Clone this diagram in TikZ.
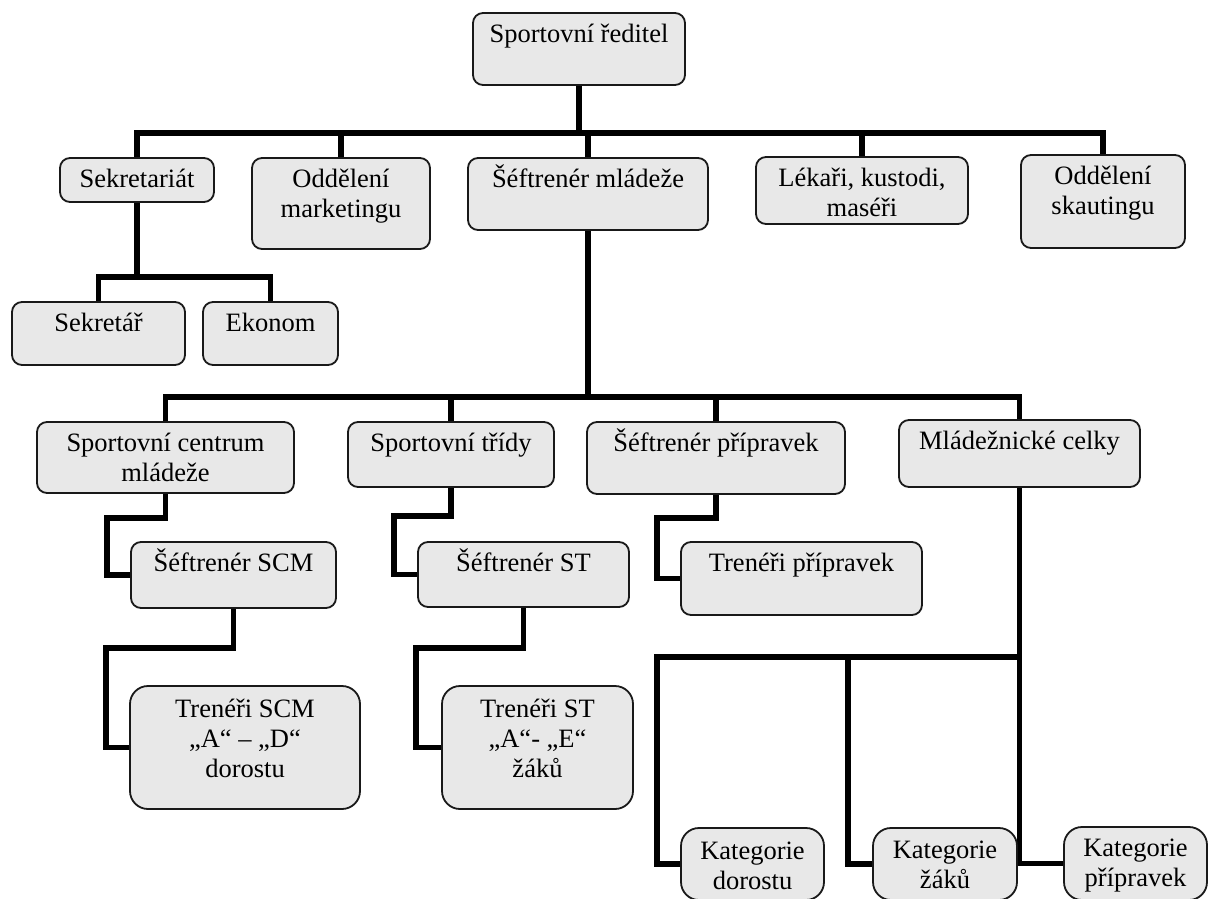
\documentclass[tikz,border=0pt]{standalone}
\usepackage{fontspec}
\setmainfont{Liberation Serif}
\usetikzlibrary{backgrounds}
\definecolor{boxfill}{gray}{0.91}
\definecolor{edge}{gray}{0.1}
\newcommand\bx[4][29pt]{\parbox[c][#3][t]{#2}{\centering\rule{0pt}{#1}#4}}
\tikzset{
  orgbox/.style={draw=edge, fill=boxfill, line width=1.8pt, rounded corners=10pt,
    inner sep=0pt, font=\fontsize{26.5}{30}\selectfont},
  bigbox/.style={orgbox, rounded corners=18pt},
  conn/.style={draw=black, line width=5.5pt, line join=miter}
}
\begin{document}
\begin{tikzpicture}[x=1pt,y=-1pt]
\useasboundingbox (0,0) rectangle (1208,899);
\clip (0,0) rectangle (1208,899);
% level 1
\node[orgbox] (top) at (579,49) {\bx[30pt]{212pt}{72pt}{Sportovní ředitel}};
% level 2
\node[orgbox] (sek) at (137,180) {\bx{154pt}{44pt}{Sekretariát}};
\node[orgbox] (mkt) at (341,203.5) {\bx{178pt}{91pt}{Oddělení\\marketingu}};
\node[orgbox] (sm) at (588,194) {\bx{240pt}{72pt}{Šéftrenér mládeže}};
\node[orgbox] (lek) at (862,190.5) {\bx{212pt}{67pt}{Lékaři, kustodi,\\maséři}};
\node[orgbox] (sku) at (1103,201.5) {\bx{164pt}{93pt}{Oddělení\\skautingu}};
% secretariat
\node[orgbox] (sekr) at (98.5,333.5) {\bx{173pt}{63pt}{Sekretář}};
\node[orgbox] (eko) at (270.5,333.5) {\bx{135pt}{63pt}{Ekonom}};
% level 3
\node[orgbox] (scm) at (165.5,457.5) {\bx{257pt}{71pt}{Sportovní centrum\\mládeže}};
\node[orgbox] (st) at (451,454.5) {\bx{206pt}{65pt}{Sportovní třídy}};
\node[orgbox] (sp) at (716,458) {\bx{258pt}{72pt}{Šéftrenér přípravek}};
\node[orgbox] (mc) at (1019.5,453.5) {\bx{241pt}{67pt}{Mládežnické celky}};
% level 4
\node[orgbox] (sscm) at (233.5,575) {\bx{205pt}{66pt}{Šéftrenér SCM}};
\node[orgbox] (sst) at (523.5,574.5) {\bx{211pt}{65pt}{Šéftrenér ST}};
\node[orgbox] (tp) at (801.5,578.5) {\bx{241pt}{73pt}{Trenéři přípravek}};
% level 5
\node[bigbox] (tscm) at (245,747.5) {\bx[31pt]{230pt}{123pt}{Trenéři SCM\\„A“ – „D“\\dorostu}};
\node[bigbox] (tst) at (537.5,747.5) {\bx[31pt]{191pt}{123pt}{Trenéři ST\\„A“- „E“\\žáků}};
\node[bigbox] (kd) at (752.5,864) {\bx[31pt]{143pt}{72pt}{Kategorie\\dorostu}};
\node[bigbox] (kz) at (945,864) {\bx[30pt]{144pt}{72pt}{Kategorie\\žáků}};
\node[bigbox] (kp) at (1135.5,863.5) {\bx[29pt]{143pt}{73pt}{Kategorie\\přípravek}};
% connectors
\begin{scope}[on background layer]
\fill[white] (0,0) rectangle (1208,899);
\coordinate (busA) at (0,133);
\coordinate (busD) at (0,277);
\coordinate (busB) at (0,397);
\coordinate (busC) at (0,657);
\draw[conn] (top.south) -- (top.south |- busA);
\draw[conn] (sek.north) -- (sek.north |- busA) -- (sku.north |- busA) -- (sku.north);
\draw[conn] (mkt.north) -- (mkt.north |- busA);
\draw[conn] (sm.north) -- (sm.north |- busA);
\draw[conn] (lek.north) -- (lek.north |- busA);
\draw[conn] (sek.south) -- (sek.south |- busD);
\draw[conn] (sekr.north) -- (sekr.north |- busD) -- (eko.north |- busD) -- (eko.north);
\draw[conn] (sm.south) -- (sm.south |- busB);
\draw[conn] (scm.north) -- (scm.north |- busB) -- (mc.north |- busB) -- (mc.north);
\draw[conn] (st.north) -- (st.north |- busB);
\draw[conn] (sp.north) -- (sp.north |- busB);
\draw[conn] (scm.south) -- ++(0,24) -| ([xshift=-23pt]sscm.west) -- (sscm.west);
\draw[conn] (sscm.south) -- ++(0,39) -| ([xshift=-23pt]tscm.west) -- (tscm.west);
\draw[conn] (st.south) -- ++(0,28) -| ([xshift=-23pt]sst.west) -- (sst.west);
\draw[conn] (sst.south) -- ++(0,40) -| ([xshift=-25pt]tst.west) -- (tst.west);
\draw[conn] (sp.south) -- ++(0,23) -| ([xshift=-23pt]tp.west) -- (tp.west);
\draw[conn] (mc.south) |- (kp.west);
\draw[conn] (kd.west) -- ++(-23,0) |- (mc.south |- busC);
\draw[conn] (kz.west) -- ++(-24,0) coordinate (kzc) -- (kzc |- busC);
\end{scope}
\end{tikzpicture}
\end{document}
